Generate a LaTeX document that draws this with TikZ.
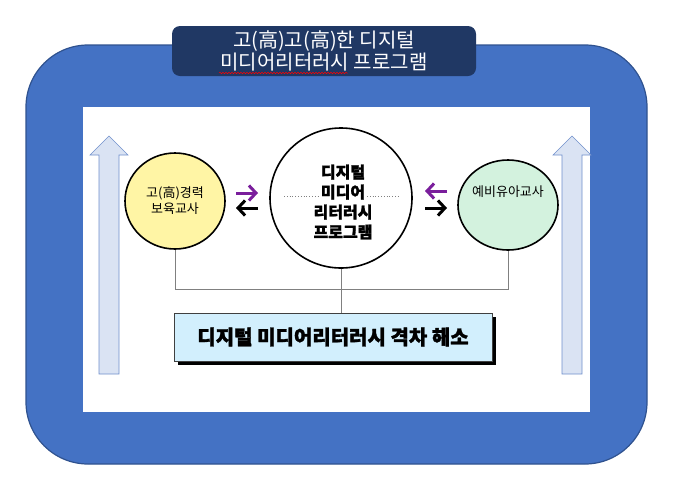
\documentclass[tikz,border=0pt]{standalone}
\usepackage{fontspec}
\setmainfont{Noto Sans CJK KR}
\newfontfamily\heavyfont{Noto Sans CJK KR}[BoldFeatures={FakeBold=1.6}]
\usetikzlibrary{positioning}
\usetikzlibrary{shapes.geometric,arrows.meta,shadows,decorations.pathmorphing}

\definecolor{frameblue}{HTML}{4472C4}
\definecolor{frameline}{HTML}{2F528F}
\definecolor{titlenavy}{HTML}{203864}
\definecolor{riseblue}{HTML}{DAE3F3}
\definecolor{riseline}{HTML}{7090CC}
\definecolor{careeryellow}{HTML}{FFF5A5}
\definecolor{novicegreen}{HTML}{D3F2DE}
\definecolor{goalblue}{HTML}{D2EFFD}
\definecolor{linkgray}{HTML}{808080}
\definecolor{pairpurple}{HTML}{7A1E9C}

\tikzset{
  group/.style={ellipse, draw=black, line width=1.6pt, inner sep=0pt, align=center,
    font=\fontsize{13pt}{16pt}\selectfont},
  link/.style={draw=linkgray, line width=0.9pt},
  pair/.style={line width=3pt, -{Straight Barb[length=7pt,width=15pt]}},
  rise/.style={fill=riseblue, draw=riseline, line width=0.6pt},
}

\begin{document}
\begin{tikzpicture}[x=1pt,y=-1pt]
\useasboundingbox (0,0) rectangle (690,488);
% outer frame
\filldraw[fill=frameblue, draw=frameline, line width=1.2pt, rounded corners=62pt] (26,45) rectangle (647,464);
\fill[white] (83,107) rectangle (590,412);
% rising arrows at the sides
\foreach \cx in {109,572}
  \filldraw[rise] ({\cx-10},374) -- ({\cx-10},155) -- ({\cx-19},155) -- (\cx,136)
    -- ({\cx+19},155) -- ({\cx+10},155) -- ({\cx+10},374) -- cycle;

% title
\node[fill=titlenavy, rounded corners=8pt, minimum width=304pt, minimum height=50pt, inner sep=2pt,
  text=white, align=center, font=\fontsize{20pt}{22pt}\selectfont] (title) at (324,51)
  {고(高)고(高)한 디지털\\미디어리터러시 프로그램};
\draw[red, line width=0.5pt, decorate, decoration={snake, amplitude=0.7pt, segment length=3pt}]
  (219,73) -- (348,73);

% three groups
\node[group, fill=careeryellow, minimum width=100pt, minimum height=96pt] (career) at (175,201)
  {고(高)경력\\보육교사};
\node[group, fill=white, minimum width=142pt, minimum height=140pt] (program) at (341,198) {};
\node[group, fill=novicegreen, minimum width=100pt, minimum height=90pt] (novice) at (508,205) {};
\node[font=\fontsize{13pt}{16pt}\selectfont] (novicetext) at (508,192) {예비유아교사};

\draw[linkgray, dotted, line width=0.8pt] (284,196) -- (318,196);
\draw[linkgray, dotted, line width=0.8pt] (367,196) -- (400,196);
\node[align=center, font=\heavyfont\bfseries\fontsize{16pt}{20pt}\selectfont] (programtext) at (343,202)
  {디지털\\미디어\\리터러시\\프로그램};

% exchange arrows
\coordinate (lpa) at (236,193);
\coordinate (lpb) at (258,193);
\coordinate (lba) at (258,208);
\coordinate (lbb) at (236,208);
\coordinate (rpa) at (447,191);
\coordinate (rpb) at (425,191);
\coordinate (rba) at (425,208);
\coordinate (rbb) at (447,208);
\draw[pair, pairpurple] (lpa) -- (lpb);
\draw[pair] (lba) -- (lbb);
\draw[pair, pairpurple] (rpa) -- (rpb);
\draw[pair] (rba) -- (rbb);

% goal box
\node[fill=goalblue, draw=black!75, line width=0.9pt, minimum width=318pt, minimum height=48pt,
  drop shadow={shadow xshift=4pt, shadow yshift=-4pt, fill=black, opacity=1},
  font=\heavyfont\bfseries\fontsize{20pt}{22pt}\selectfont] (goal) at (333,337)
  {디지털 미디어리터러시 격차 해소};

% links
\coordinate (bus) at (341,289);
\draw[link] (career.south) -- (career.south |- bus) -| (novice.south);
\draw[link] (program.south) -- (program.south |- goal.north);
\end{tikzpicture}
\end{document}
